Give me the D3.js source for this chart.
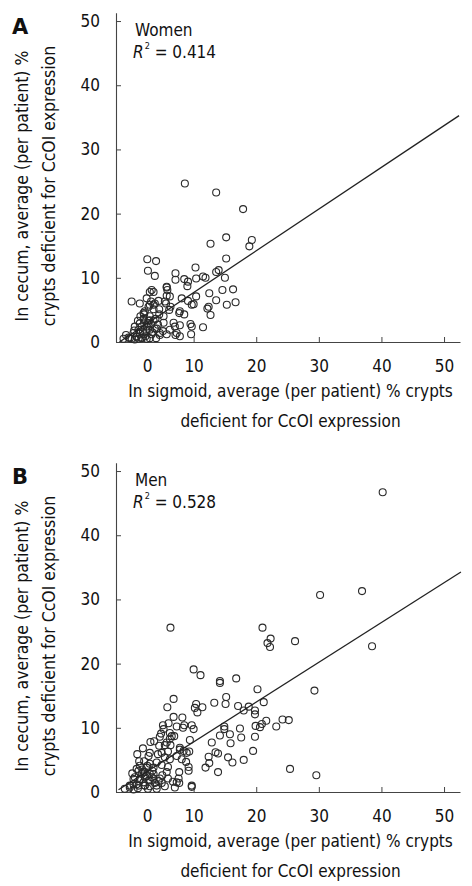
<!DOCTYPE html>
<html>
<head>
<meta charset="utf-8">
<script src="https://cdn.jsdelivr.net/npm/d3@7"></script>
<style>
  html, body { margin: 0; padding: 0; background: #fff; }
  svg { display: block; }
  text { font-family: 'DejaVu Sans Condensed', 'DejaVu Sans', sans-serif; font-stretch: condensed; fill: #111; }
</style>
</head>
<body>
<svg id="chart" width="472" height="886"></svg>
<script>
// ---------------- data ----------------
const xTicks = [0, 10, 20, 30, 40, 50];
const yTicks = [0, 10, 20, 30, 40, 50];
const panelLetters = ["A", "B"];
const groupNames = ["Women", "Men"];
const r2Values = ["0.414", "0.528"];
const xLabelLines = ["In sigmoid, average (per patient) % crypts", "deficient for CcOI expression"];
const yLabelLines = ["In cecum, average (per patient) %", "crypts deficient for CcOI expression"];

const womenX = [8.6,13.6,17.9,19.3,18.9,15.2,12.7,15.2,2.6,4.0,2.7,3.8,7.1,7.1,8.5,9.1,9.0,10.3,10.4,11.5,11.9,13.6,14.0,15.0,12.5,14.6,16.3,13.6,15.3,16.7,12.4,12.2,12.7,10.4,9.7,10.0,8.1,9.1,7.8,7.7,8.5,9.5,9.7,9.6,11.5,7.0,7.8,7.1,5.7,5.8,6.2,5.4,5.6,6.3,6.1,0.1,1.4,3.0,3.6,4.4,3.2,2.8,3.6,4.5,2.1,3.0,4.5,5.2,5.2,5.1,5.7,6.2,6.8,2.1,3.2,3.8,4.6,1.2,1.7,2.5,3.3,4.0,0.4,0.9,1.7,2.5,-0.4,-1.2,0.1,1.2,2.1,3.0,2.8,3.6,2.0,1.4,0.6,2.2,3.6,0.6,7.3,7.8,-0.2,1.4,2.5,3.0,2.0,4.1,4.6,3.0,1.7,0.9,3.8,3.0,2.5,3.3,5.7,5.7,
  0.5,1.9,2.7,3.4,1.1,2.3,3.9,4.3,-0.8,1.5];
const womenY = [24.7,23.3,20.7,15.9,14.9,16.3,15.3,13.0,12.9,12.6,11.1,10.3,10.7,9.7,9.8,9.4,8.7,11.6,9.9,10.2,10.0,10.9,11.2,10.0,7.6,8.1,8.2,6.5,5.8,6.2,5.5,5.2,4.2,7.1,5.8,5.9,6.8,6.4,4.8,4.5,4.3,2.8,2.4,1.2,2.3,2.4,2.6,1.1,8.5,8.1,7.1,6.3,6.0,5.5,5.0,6.3,6.0,7.8,7.8,6.4,6.3,5.5,5.1,5.1,4.3,4.0,4.3,4.0,3.0,1.7,1.2,1.9,3.0,2.9,2.8,2.1,1.4,1.9,2.4,1.7,1.2,0.6,1.4,0.9,0.7,0.5,0.7,0.5,0.5,0.5,1.2,1.9,3.3,3.3,3.6,2.9,2.4,4.8,5.8,0.4,1.4,0.9,0.6,1.3,2.4,3.4,4.5,2.1,1.1,0.6,0.6,0.8,6.0,5.8,6.8,8.1,8.6,7.2,
  1.8,1.6,2.9,1.5,3.3,0.9,3.6,2.7,1.1,4.0];

const menX = [30.2,36.9,21.0,22.3,21.8,22.2,26.2,38.5,20.2,29.3,21.2,18.8,18.0,19.8,19.8,21.6,19.9,20.6,20.9,24.2,25.2,23.2,17.4,17.6,19.8,19.5,18.0,25.4,29.6,40.2,
  6.3,10.0,11.1,14.2,14.2,16.8,6.8,5.8,10.2,10.4,11.4,10.6,13.3,15.1,15.2,17.1,6.8,8.2,8.5,9.7,10.0,5.1,6.0,5.2,6.2,7.3,6.9,8.3,14.9,14.9,15.8,14.2,12.9,13.5,13.9,12.4,12.5,11.9,13.9,15.5,16.2,15.9,9.4,9.3,7.8,7.8,8.4,8.9,7.3,8.1,8.8,9.2,9.2,9.7,6.5,6.2,5.7,5.4,6.3,5.9,5.4,6.2,5.9,4.6,4.8,3.7,3.1,4.5,1.9,1.0,1.3,2.1,3.0,2.8,4.3,4.9,4.1,4.9,3.0,3.6,5.7,5.9,6.7,7.7,7.6,7.7,7.0,4.6,4.9,5.4,2.2,3.0,1.2,1.7,2.2,2.8,3.6,3.8,1.4,0.6,0.4,1.2,2.2,3.0,-0.2,0.4,-1.0,4.1,2.5,1.4,2.0,
  2.0,2.5,1.4,0.9,3.0,3.6,0.4,2.2,4.1,-0.2,7.3,9.7,
  0.9,1.8,2.6,3.3,4.4,1.1,2.7,3.4,0.2,5.0];
const menY = [30.7,31.3,25.6,23.9,23.2,22.6,23.5,22.7,16.0,15.8,14.0,13.3,12.7,12.7,12.1,11.1,10.3,10.1,10.6,11.3,11.2,10.2,9.9,8.5,8.6,6.4,5.0,3.6,2.6,46.7,
  25.6,19.1,18.2,17.3,17.0,17.7,14.5,13.2,13.1,13.7,13.2,12.4,13.9,13.7,14.8,13.4,11.7,11.6,10.4,10.4,9.8,10.4,10.7,9.8,9.2,10.2,8.7,10.0,10.2,9.8,9.0,8.8,7.7,6.2,6.0,5.5,4.5,3.8,3.1,5.4,4.6,7.6,8.1,6.3,6.9,6.6,6.4,6.1,5.6,5.1,4.7,3.9,3.3,0.8,8.7,8.3,7.7,7.3,7.3,6.3,5.4,5.1,3.9,8.6,9.1,7.9,7.8,7.2,6.8,5.9,4.8,4.8,6.1,5.6,5.9,6.1,4.6,4.2,4.4,3.8,3.1,2.1,1.6,3.1,2.1,1.4,0.7,2.1,1.4,0.9,3.1,2.8,3.3,2.8,2.3,1.8,2.1,1.4,2.0,2.3,1.2,1.0,1.0,0.9,0.7,0.4,0.5,0.5,3.8,4.1,1.5,
  3.1,2.5,2.0,1.2,1.8,2.8,2.0,1.0,1.0,1.0,1.5,1.0,
  3.6,3.5,4.1,2.3,1.7,0.6,0.5,3.3,2.9,2.6];

// regression lines: [slope, intercept] and x extent
const womenFit = [0.65, 1.2];
const womenFitX = [-1.85, 52.4];
const menFit = [0.62, 1.6];
const menFitX = [-2.0, 52.7];

// ---------------- drawing ----------------
const svg = d3.select("#chart");
svg.append("rect").attr("width", 472).attr("height", 886).attr("fill", "#fff");

const x = d3.scaleLinear().domain([-2.4, 52.55]).range([116, 460]);
const y = d3.scaleLinear().domain([0, 51.3]).range([342, 12.7]);

const panels = [
  { xs: womenX, ys: womenY, fit: womenFit, fitX: womenFitX, offset: 0 },
  { xs: menX, ys: menY, fit: menFit, fitX: menFitX, offset: 450 }
];

panels.forEach((p, i) => {
  const g = svg.append("g").attr("transform", `translate(0,${p.offset})`);

  // axes
  const yAxis = d3.axisLeft(y).tickValues(yTicks).tickSizeInner(-5).tickSizeOuter(0).tickPadding(16).tickFormat(d3.format("d"));
  const xAxis = d3.axisBottom(x).tickValues(xTicks).tickSizeInner(-5).tickSizeOuter(0).tickPadding(17.5).tickFormat(d3.format("d"));

  const gy = g.append("g").attr("transform", `translate(${x.range()[0]},0)`).call(yAxis);
  const gx = g.append("g").attr("transform", `translate(0,${y.range()[0]})`).call(xAxis);
  [gx, gy].forEach(a => {
    a.select(".domain").attr("stroke", "#444").attr("stroke-width", 1.1);
    a.selectAll(".tick line").attr("stroke", "#444").attr("stroke-width", 1);
    a.selectAll(".tick text").attr("font-size", 17).attr("fill", "#111")
      .style("font-family", "'DejaVu Sans Condensed', 'DejaVu Sans', sans-serif");
  });
  gx.selectAll(".tick text").filter(d => d === 0).attr("dx", 16);

  // points
  g.append("g").selectAll("circle")
    .data(p.xs.map((v, k) => [v, p.ys[k]]))
    .join("circle")
    .attr("cx", d => x(d[0]))
    .attr("cy", d => y(d[1]))
    .attr("r", 3.5)
    .attr("fill", "none")
    .attr("stroke", "#2a2a2a")
    .attr("stroke-width", 1.1);

  // regression line
  const fitPts = p.fitX.map(v => [v, p.fit[0] * v + p.fit[1]]);
  g.append("path")
    .attr("d", d3.line().x(d => x(d[0])).y(d => y(Math.max(0, d[1])))(fitPts))
    .attr("stroke", "#222").attr("stroke-width", 1.3).attr("fill", "none");

  // group label and R²
  g.append("text").attr("x", 135).attr("y", 36).attr("font-size", 17).text(groupNames[i]);
  const r = g.append("text").attr("x", 133).attr("y", 58).attr("font-size", 17);
  r.append("tspan").attr("font-style", "italic").text("R");
  r.append("tspan").attr("font-size", 9).attr("dy", -9).attr("dx", 1).text("2");
  r.append("tspan").attr("dy", 9).text(" = " + r2Values[i]);

  // panel letter
  g.append("text").attr("x", 12).attr("y", 33.5).attr("font-size", 21).attr("font-weight", "bold")
    .style("font-family", "'DejaVu Sans', sans-serif").style("font-stretch", "normal").text(panelLetters[i]);

  // axis titles
  const xl = g.append("text").attr("text-anchor", "middle").attr("font-size", 17);
  xLabelLines.forEach((t, k) => xl.append("tspan").attr("x", 290.5).attr("y", 397 + k * 30).text(t));

  yLabelLines.forEach((t, k) => {
    g.append("text")
      .attr("transform", `translate(${28 + k * 27},186) rotate(-90)`)
      .attr("text-anchor", "middle").attr("font-size", 17.5).text(t);
  });
});
</script>
</body>
</html>
